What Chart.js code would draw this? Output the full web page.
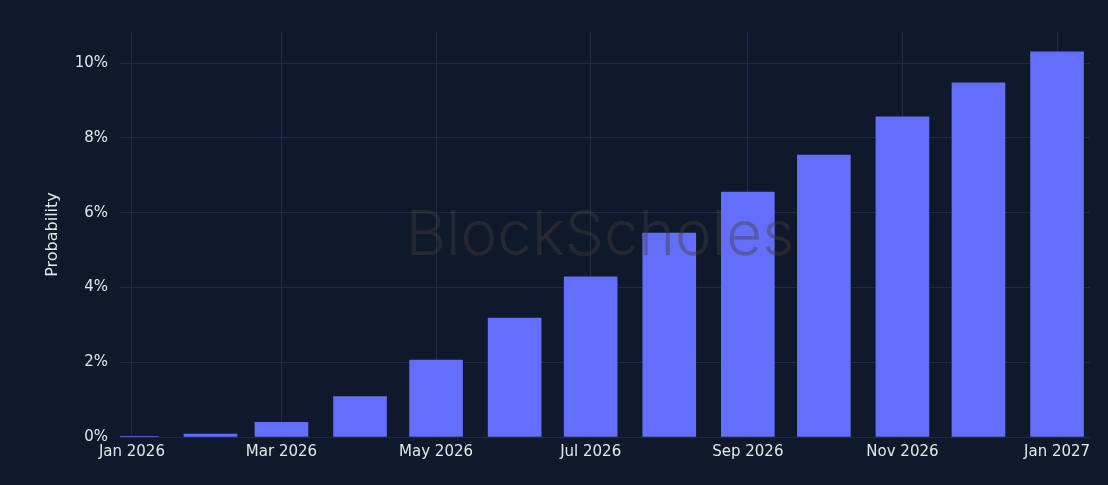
<!DOCTYPE html>
<html>
<head>
<meta charset="utf-8">
<script src="https://cdn.jsdelivr.net/npm/chart.js@4.4.1/dist/chart.umd.min.js"></script>
<style>
  html, body { margin: 0; padding: 0; background: #0f192b; }
  #wrap { width: 1108px; height: 485px; }
</style>
</head>
<body>
<div id="wrap"><canvas id="c" width="1108" height="485"></canvas></div>
<script>
// ---- data ----
const months = ["2026-01","2026-02","2026-03","2026-04","2026-05","2026-06","2026-07","2026-08","2026-09","2026-10","2026-11","2026-12","2027-01"];
const probability = [0.02, 0.08, 0.39, 1.08, 2.06, 3.18, 4.28, 5.45, 6.55, 7.54, 8.56, 9.47, 10.30];
const xTickMonths = ["2026-01","2026-03","2026-05","2026-07","2026-09","2026-11","2027-01"];
const xTickLabels = ["Jan 2026","Mar 2026","May 2026","Jul 2026","Sep 2026","Nov 2026","Jan 2027"];
const yTicks = [0, 2, 4, 6, 8, 10];

// helpers: day offset from Jan 1 2026
const base = Date.UTC(2026, 0, 1);
function dayOf(ym) {
  const [y, m] = ym.split("-").map(Number);
  return (Date.UTC(y, m - 1, 1) - base) / 86400000;
}
const points = months.map((m, i) => ({ x: dayOf(m), y: probability[i] }));
const tickDays = xTickMonths.map(dayOf);

const FONT = "'DejaVu Sans', Verdana, sans-serif";
const TEXT = "#e4e6ea";
const GRID = "#1d2b4a";

const watermark = {
  id: "watermark",
  afterDatasetsDraw(chart) {
    const { ctx } = chart;
    ctx.save();
    ctx.font = "300 62px Inter, 'Open Sans', sans-serif";
    ctx.fillStyle = "rgba(70,60,60,0.42)";
    ctx.textAlign = "center";
    ctx.textBaseline = "middle";
    ctx.fillText("BlockScholes", 600, 236);
    ctx.restore();
  }
};

new Chart(document.getElementById("c"), {
  type: "bar",
  data: {
    datasets: [{
      data: points,
      backgroundColor: "#636efa",
      borderWidth: 0,
      barThickness: 53
    }]
  },
  options: {
    responsive: false,
    animation: false,
    layout: { padding: { top: 32, right: 18, left: 0, bottom: 0 } },
    plugins: { legend: { display: false }, tooltip: { enabled: false } },
    scales: {
      x: {
        type: "linear",
        offset: false,
        min: -4.7,
        max: 378,
        afterBuildTicks(scale) { scale.ticks = tickDays.map(v => ({ value: v })); },
        afterFit(scale) { scale.height = 48; },
        ticks: {
          color: TEXT,
          font: { family: FONT, size: 15 },
          padding: 6,
          maxRotation: 0,
          autoSkip: false,
          callback(value) {
            const i = tickDays.indexOf(value);
            return i >= 0 ? xTickLabels[i] : "";
          }
        },
        grid: { color: GRID, lineWidth: 1, drawTicks: false, offset: false },
        border: { display: false }
      },
      y: {
        min: 0,
        max: 10.83,
        afterBuildTicks(scale) { scale.ticks = yTicks.map(v => ({ value: v })); },
        afterFit(scale) { scale.width = 120; },
        ticks: {
          color: TEXT,
          font: { family: FONT, size: 15 },
          padding: 12,
          callback(value) { return value + "%"; }
        },
        grid: { color: GRID, lineWidth: 1, drawTicks: false },
        border: { display: false },
        title: {
          display: true,
          text: "Probability",
          color: TEXT,
          font: { family: FONT, size: 16 },
          padding: { top: 43, bottom: 0 }
        }
      }
    }
  },
  plugins: [watermark]
});
</script>
</body>
</html>
